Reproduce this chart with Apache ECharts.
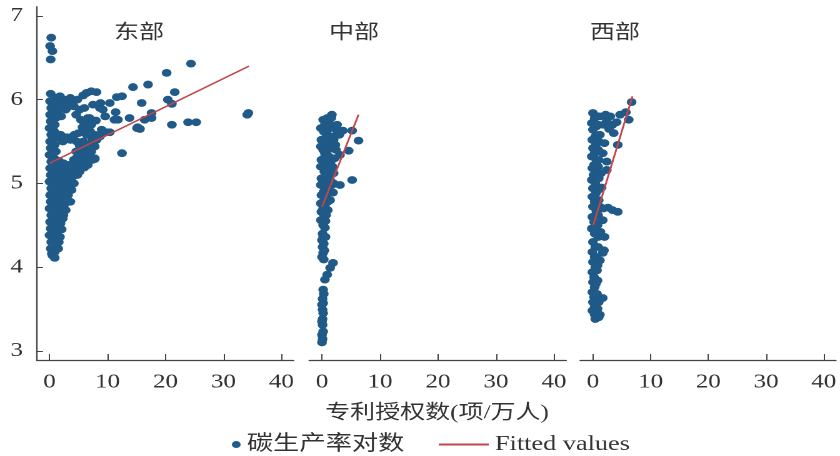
<!DOCTYPE html>
<html><head><meta charset="utf-8">
<script src="https://cdn.jsdelivr.net/npm/echarts@6/dist/echarts.min.js"></script>
<style>
html,body{margin:0;padding:0;background:#fff;overflow:hidden}
#wrap{width:840px;height:456px;overflow:hidden;position:relative;background:#fff}
#chart{width:672px;height:456px;transform:scaleX(1.25);transform-origin:0 0}
</style></head><body>
<div id="wrap"><div id="chart"></div></div>
<script>
// ---------- data ----------
const panelNames = ['东部', '中部', '西部'];
const xTicks = [0, 10, 20, 30, 40];
const yTicks = [3, 4, 5, 6, 7];
const xAxisTitle = '专利授权数(项/万人)';
const scatterName = '碳生产率对数';
const lineName = 'Fitted values';

const eastPoints = [
  [0.3,6.74],[0.1,6.64],[0.5,6.58],[0.2,6.48],
  [0.2,6.07],[0.1,5.98],[0.3,5.90],[0.1,5.82],[0.2,5.74],[0.0,5.66],[0.3,5.58],[0.1,5.50],[0.2,5.42],[0.0,5.34],
  [0.3,5.26],[0.1,5.18],[0.2,5.10],[0.0,5.02],[0.3,4.94],[0.1,4.86],[0.2,4.78],[0.0,4.70],[0.3,4.62],[0.1,4.54],
  [0.2,4.46],[0.0,4.38],[0.3,4.30],[0.2,4.22],[0.4,4.16],
  [0.9,6.02],[1.0,5.94],[0.8,5.86],[1.1,5.78],[0.9,5.70],[0.8,5.62],[1.0,5.54],[0.9,5.46],[1.1,5.38],[0.8,5.30],
  [1.2,5.22],[0.9,5.14],[1.1,5.06],[0.8,4.98],[1.2,4.90],[0.9,4.82],[1.3,4.74],[1.0,4.66],[1.2,4.58],[0.9,4.50],
  [1.3,4.42],[1.0,4.34],[1.2,4.26],[0.9,4.18],[0.9,4.11],
  [0.5,5.05],[0.5,5.20],[0.6,5.36],[0.5,5.52],[0.6,5.68],[0.5,5.84],[0.6,6.00],[0.5,5.60],[0.5,5.76],[0.5,5.92],
  [0.5,5.44],[0.5,5.28],
  [1.8,4.36],[1.6,4.48],[2.1,4.45],[2.0,4.56],[2.4,4.62],[1.7,4.64],[2.8,4.68],[2.2,4.72],[3.6,4.78],[2.6,4.80],
  [1.8,4.84],[3.2,4.86],[3.8,4.92],[2.4,4.92],[3.0,4.97],[4.2,5.00],[1.8,5.00],[3.6,5.05],[2.6,5.06],[4.8,5.10],
  [3.2,5.12],[5.2,5.14],[2.0,5.12],[4.2,5.16],[6.0,5.19],[3.0,5.20],[6.6,5.22],[5.0,5.24],[6.1,5.24],[7.4,5.28],
  [4.2,5.28],[7.8,5.30],[5.6,5.32],[6.8,5.36],[7.8,5.44],[7.0,5.45],[4.6,5.38],[5.8,5.42],
  [0.5,4.14],[0.6,4.20],[1.5,4.22],[0.6,4.28],[1.6,4.30],[0.5,4.36],[1.4,4.38],[0.6,4.44],[1.9,4.52],[0.5,4.52],
  [1.5,4.56],[2.3,4.58],[0.6,4.60],[1.4,4.62],[2.0,4.67],[0.5,4.68],[1.6,4.72],[2.6,4.75],[0.6,4.76],[1.5,4.78],
  [3.0,4.80],[2.1,4.84],[0.6,4.84],[2.7,4.90],[1.6,4.90],[0.5,4.92],[3.4,4.94],[2.2,4.96],[1.4,4.97],[0.6,5.00],
  [2.6,5.00],[3.6,5.00],[1.2,5.04],[3.0,5.06],[4.0,5.08],[1.6,5.08],[2.4,5.14],[3.8,5.12],[0.6,5.10],[4.6,5.18],
  [1.4,5.18],[3.4,5.22],[2.4,5.24],[5.4,5.26],[1.6,5.27],[4.6,5.30],[6.2,5.30],[5.2,5.36],[6.0,5.36],[7.2,5.38],
  [6.4,5.46],[5.2,5.45],[4.7,5.50],[5.8,5.50],[7.4,5.52],
  [1.4,5.97],[2.6,6.00],[3.6,6.02],[4.0,5.97],[4.8,6.00],[6.4,6.08],[8.1,6.09],[2.2,5.91],[2.8,5.88],[1.4,5.84],
  [5.2,5.88],[5.4,5.76],[6.6,5.78],[6.9,5.78],[8.8,5.96],[8.7,5.90],[9.2,5.88],[11.4,5.85],[11.8,5.76],[6.1,5.64],
  [5.7,5.67],[1.9,5.58],[4.3,5.58],[3.0,5.55],[6.4,5.58],[7.8,5.58],[8.1,5.52],[8.7,5.56],[10.0,5.61],[10.4,5.61],
  [1.8,6.04],[3.0,5.96],[3.4,6.00],[5.8,6.05],[7.2,6.10],[1.8,5.93],[3.3,5.92],[4.2,5.92],[6.0,5.90],[7.5,5.94],
  [2.0,5.80],[4.6,5.82],[6.0,5.72],[7.2,5.70],[8.0,5.75],[9.6,5.80],[2.6,5.55],[3.6,5.52],[2.3,5.50],[4.0,5.56],
  [5.0,5.60],[7.0,5.62],[9.0,5.64],
  [7.8,5.29],[6.1,5.24],[12.5,5.36],[15.2,5.67],[16.4,5.76],
  [10.4,5.96],[11.6,6.03],[12.5,6.04],[14.4,6.15],[17.0,6.18],[20.2,6.32],[24.4,6.43],[21.6,6.09],[20.4,6.00],
  [21.1,5.95],[15.9,5.96],[17.6,5.84],[17.6,5.78],[15.6,5.65],[21.1,5.70],[23.9,5.73],[25.3,5.73],[34.3,5.84],
  [34.1,5.82],[13.8,5.78],[15.1,5.66],[11.2,5.76]
];

const middlePoints = [
  [1.7,5.82],[0.5,5.70],[3.6,5.63],[5.2,5.63],[6.3,5.51],[4.6,5.39],[2.3,5.46],[3.1,5.34],[5.2,5.04],[3.1,4.98],
  [1.9,4.89],[1.4,4.80],[1.2,5.72],[2.2,5.66],[1.0,5.64],
  [-0.2,5.66],[0.6,5.60],[1.4,5.56],[-0.1,5.52],[0.7,5.48],[1.6,5.42],[-0.2,5.44],[0.5,5.36],[1.2,5.32],[-0.1,5.28],
  [0.8,5.24],[1.8,5.20],[-0.2,5.20],[0.4,5.14],[1.3,5.10],[-0.1,5.06],[0.7,5.02],[2.0,5.00],[-0.2,4.98],[0.5,4.92],
  [1.1,4.95],[-0.1,4.86],[0.6,4.82],[-0.2,4.76],[0.5,4.72],[1.0,4.68],[-0.1,4.66],[0.4,4.60],[-0.2,4.56],
  [0.2,5.76],[0.9,5.78],[0.3,5.62],[1.0,5.55],[0.2,5.40],[1.0,5.40],[2.0,5.52],[2.6,5.60],[0.3,5.30],[1.5,5.26],
  [2.2,5.30],[0.3,5.18],[1.0,5.16],[0.2,5.02],[1.4,5.04],[0.3,4.90],[0.9,4.88],[0.2,4.78],[1.0,4.78],[0.2,4.70],
  [0.7,4.62],[0.2,4.64],[0.6,4.55],[2.6,5.70],[1.6,5.78],[3.0,5.58],[2.4,5.40],[2.0,5.12],[1.7,4.98],
  [0.2,4.50],[0.5,4.47],[0.1,4.40],[0.2,4.36],[0.3,4.28],[0.1,4.24],[0.2,4.17],[0.3,4.09],[1.9,4.05],[1.4,3.99],
  [0.9,3.91],[0.5,3.85],[0.2,3.73],[0.1,3.62],[0.2,3.57],[0.1,3.49],[0.0,3.35],[0.1,3.31],[0.0,3.19],[0.0,3.10],
  [0.6,4.36],[0.0,4.32],[0.4,4.20],[0.0,4.12],[0.3,3.68],[0.0,3.55],[0.2,3.45],[0.1,3.38],[0.2,3.23],[0.1,3.14]
];

const westPoints = [
  [6.7,5.97],[0.0,5.84],[1.2,5.80],[2.4,5.76],[3.4,5.70],[4.7,5.82],[5.7,5.85],[6.2,5.76],[4.1,5.73],[3.6,5.60],
  [4.3,5.46],[1.2,5.58],[1.7,5.36],[2.4,5.26],
  [0.3,5.78],[-0.2,5.72],[0.6,5.68],[0.0,5.64],[0.4,5.56],[-0.1,5.52],[0.5,5.46],[0.0,5.42],[0.3,5.36],[-0.2,5.32],
  [0.2,5.22],[-0.1,5.18],[0.6,5.14],[0.1,5.10],[-0.2,5.04],[0.4,5.00],[0.0,4.94],[0.5,4.88],[-0.1,4.84],[0.3,4.78],
  [0.0,4.72],[0.6,4.66],[-0.1,4.60],[0.2,4.54],[0.8,4.50],[-0.2,4.46],[0.3,4.40],[0.9,4.36],[0.0,4.30],[0.4,4.24],
  [-0.1,4.18],[0.3,4.12],[0.0,4.06],[0.4,4.00],[-0.1,3.94],[0.2,3.88],[0.0,3.82],[0.3,3.76],[-0.1,3.70],[0.2,3.64],
  [0.0,3.58],[0.3,3.52],[-0.1,3.48],[0.3,3.43],[1.2,3.43],[1.7,3.63],[1.0,3.58],[0.4,3.38],[1.0,3.40],
  [2.4,5.16],[1.4,5.12],[1.7,4.56],[1.7,4.17],[1.2,4.08],[2.6,4.71],[3.4,4.68],[4.3,4.66],[1.5,4.95],[1.3,4.42],[1.0,5.28],
  [0.8,5.80],[0.9,5.70],[1.0,5.50],[0.9,5.40],[0.9,5.20],[1.0,5.06],[0.9,4.92],[1.0,4.80],[0.9,4.62],[1.2,4.72],
  [0.9,4.24],[0.8,4.02],[0.8,3.84],[0.7,3.68],[0.8,3.50],[0.7,3.96],[1.8,4.70],[2.0,4.36],[1.9,4.20],[0.6,4.12],
  [0.5,4.44],[0.5,3.80],[0.6,5.28],[2.2,5.82],[1.8,5.70],[2.8,5.65],[3.0,5.80],[2.0,5.48]
];

const eastFit = [[0, 5.24], [34.4, 6.40]];
const middleFit = [[0, 4.72], [6.3, 5.82]];
const westFit = [[0.05, 4.50], [6.85, 6.04]];

// ---------- layout / style ----------
const dotColor = '#1f5a88';
const lineColor = '#c0474a';
const textColor = '#333';
const axisColor = '#444';
const serif = 'Liberation Serif, Noto Sans CJK SC';
const cjk = 'Liberation Serif, Noto Sans CJK SC';
const panelLeft = [29.4, 247.4, 464.2];
const panelWidth = 205.5;
const gridTop = 6.7, gridHeight = 353.3;
const xMin = -2.2, xMax = 42.1, yMin = 2.89, yMax = 7.11;

const pointsByPanel = [eastPoints, middlePoints, westPoints];
const fitByPanel = [eastFit, middleFit, westFit];
const titleX = [111.2, 283.2, 492];

const grids = [], xAxes = [], yAxes = [], series = [];
for (let i = 0; i < 3; i++) {
  grids.push({ left: panelLeft[i], top: gridTop, width: panelWidth, height: gridHeight });
  xAxes.push({
    type: 'value', gridIndex: i, min: xMin, max: xMax,
    axisLine: { show: true, onZero: false, lineStyle: { color: axisColor, width: 1.2 } },
    axisTick: { show: true, inside: true, length: 6, customValues: xTicks, lineStyle: { color: axisColor, width: 1 } },
    axisLabel: { show: true, customValues: xTicks, margin: 12, color: textColor, fontFamily: serif, fontSize: 20 },
    splitLine: { show: false }
  });
  yAxes.push({
    type: 'value', gridIndex: i, min: yMin, max: yMax,
    axisLine: { show: i === 0, onZero: false, lineStyle: { color: axisColor, width: 1.2 } },
    axisTick: { show: i === 0, inside: true, length: 5, customValues: yTicks, lineStyle: { color: axisColor, width: 1 } },
    axisLabel: { show: i === 0, customValues: yTicks, margin: 11, padding: [5, 0, 0, 0], color: textColor, fontFamily: serif, fontSize: 20 },
    splitLine: { show: false }
  });
  series.push({
    name: scatterName, type: 'scatter', xAxisIndex: i, yAxisIndex: i,
    data: pointsByPanel[i], symbol: 'circle', symbolSize: 7.8,
    itemStyle: { color: dotColor, opacity: 1 }, emphasis: { disabled: true }, z: 2
  });
  series.push({
    name: lineName, type: 'line', xAxisIndex: i, yAxisIndex: i,
    data: fitByPanel[i], symbol: 'none', showSymbol: false,
    lineStyle: { color: lineColor, width: 1.5 }, itemStyle: { color: lineColor },
    emphasis: { disabled: true }, z: 3
  });
}

const graphics = panelNames.map((t, i) => ({
  type: 'text', x: titleX[i], y: 33,
  style: { text: t, fill: textColor, font: '20px ' + cjk, align: 'center', verticalAlign: 'middle' }
}));
graphics.push({
  type: 'text', x: 349.6, y: 413,
  style: { text: xAxisTitle, fill: textColor, font: '20px ' + cjk, align: 'center', verticalAlign: 'middle' }
});

const option = {
  animation: false,
  backgroundColor: '#fff',
  grid: grids, xAxis: xAxes, yAxis: yAxes, series: series,
  graphic: graphics,
  legend: [
    { data: [scatterName], left: 185.5, top: 434, padding: 0, icon: 'circle', itemWidth: 7, itemHeight: 7,
      selectedMode: false, textStyle: { color: textColor, fontSize: 21, fontFamily: cjk } },
    { data: [{ name: lineName, icon: 'rect' }], left: 351, top: 434, padding: 0, itemWidth: 40, itemHeight: 2,
      selectedMode: false, textStyle: { color: textColor, fontSize: 21, fontFamily: serif } }
  ]
};
const chart = echarts.init(document.getElementById('chart'), null, { renderer: 'canvas', devicePixelRatio: 2 });
chart.setOption(option);
</script>
</body></html>
